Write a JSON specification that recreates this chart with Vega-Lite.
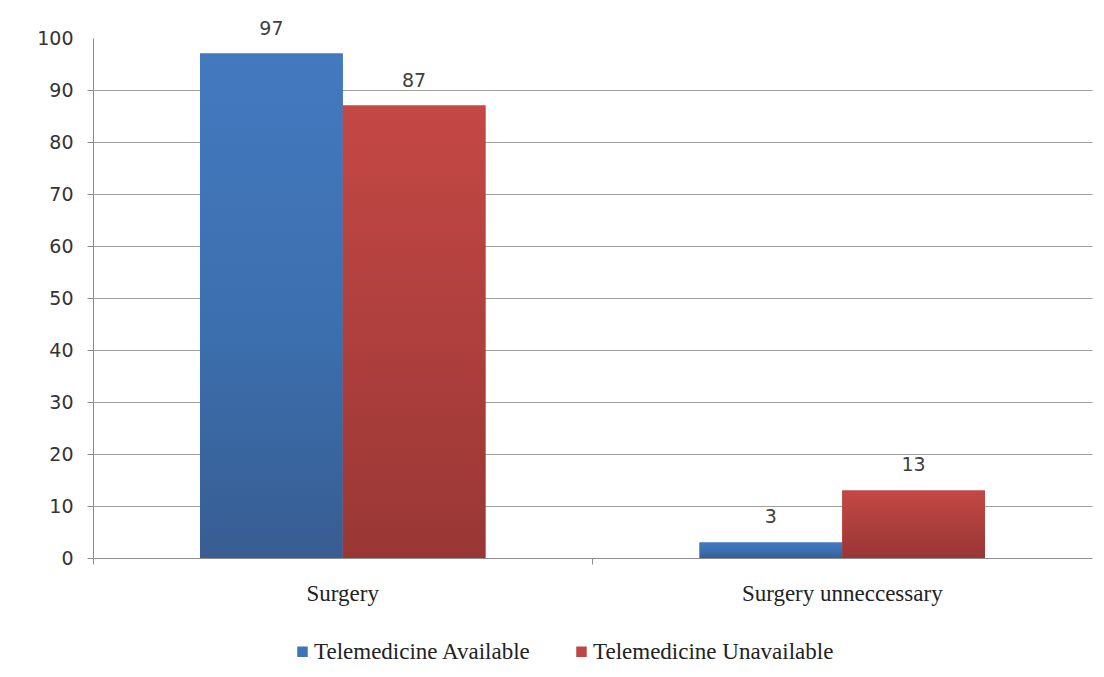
{
  "$schema": "https://vega.github.io/schema/vega-lite/v6.json",
  "width": 999,
  "height": 520,
  "autosize": {"type": "none"},
  "padding": {"left": 93, "top": 38, "right": 12, "bottom": 119},
  "background": "white",
  "config": {"view": {"stroke": null}},
  "data": {
    "values": [
      {"category": "Surgery", "series": "Telemedicine Available", "value": 97},
      {"category": "Surgery", "series": "Telemedicine Unavailable", "value": 87},
      {"category": "Surgery unneccessary", "series": "Telemedicine Available", "value": 3},
      {"category": "Surgery unneccessary", "series": "Telemedicine Unavailable", "value": 13}
    ]
  },
  "encoding": {
    "x": {
      "field": "category",
      "type": "nominal",
      "sort": ["Surgery", "Surgery unneccessary"],
      "scale": {"paddingInner": 0, "paddingOuter": 0},
      "axis": {
        "title": null,
        "labelAngle": 0,
        "domainColor": "#8c8c8c",
        "tickColor": "#8c8c8c",
        "tickSize": 6,
        "bandPosition": 0,
        "labelPadding": 18,
        "labelFont": "Liberation Serif",
        "labelFontSize": 23,
        "labelLimit": 400,
        "labelColor": "#222222"
      }
    },
    "xOffset": {
      "field": "series",
      "type": "nominal",
      "sort": ["Telemedicine Available", "Telemedicine Unavailable"],
      "scale": {"paddingInner": 0, "paddingOuter": 0.75}
    },
    "y": {
      "field": "value",
      "type": "quantitative",
      "scale": {"domain": [0, 100]},
      "axis": {
        "title": null,
        "values": [0, 10, 20, 30, 40, 50, 60, 70, 80, 90, 100],
        "domainColor": "#8c8c8c",
        "tickColor": "#8c8c8c",
        "gridColor": "#a0a0a0",
        "tickSize": 6,
        "labelPadding": 14,
        "labelFont": "DejaVu Sans",
        "labelFontSize": 19,
        "labelColor": "#333333",
        "gridOpacity": {"condition": {"test": "datum.value === 100 || datum.value === 0", "value": 0}, "value": 1},
        "tickOpacity": {"condition": {"test": "datum.value === 100", "value": 0}, "value": 1}
      }
    }
  },
  "layer": [
    {
      "mark": {"type": "bar"},
      "encoding": {
        "color": {
          "field": "series",
          "type": "nominal",
          "sort": ["Telemedicine Available", "Telemedicine Unavailable"],
          "scale": {"range": ["#3f74b8", "#bd4744"]},
          "legend": {
            "title": null,
            "orient": "none",
            "legendX": 198,
            "legendY": 602,
            "direction": "horizontal",
            "symbolType": "square",
            "symbolSize": 110,
            "symbolStrokeWidth": 0,
            "symbolOffset": 0,
            "labelOffset": 0,
            "columnPadding": 39,
            "labelLimit": 400,
            "labelFont": "Liberation Serif",
            "labelFontSize": 23,
            "labelColor": "#222222"
          }
        }
      }
    },
    {
      "transform": [{"filter": "datum.series === 'Telemedicine Available'"}],
      "mark": {
        "type": "bar",
        "fill": {
          "gradient": "linear",
          "x1": 0, "y1": 0, "x2": 0, "y2": 1,
          "stops": [
            {"offset": 0, "color": "#4479c0"},
            {"offset": 0.55, "color": "#3b6fae"},
            {"offset": 1, "color": "#385d92"}
          ]
        }
      }
    },
    {
      "transform": [{"filter": "datum.series === 'Telemedicine Unavailable'"}],
      "mark": {
        "type": "bar",
        "fill": {
          "gradient": "linear",
          "x1": 0, "y1": 0, "x2": 0, "y2": 1,
          "stops": [
            {"offset": 0, "color": "#c44845"},
            {"offset": 1, "color": "#993735"}
          ]
        }
      }
    },
    {
      "mark": {
        "type": "text",
        "baseline": "bottom",
        "dy": -15,
        "font": "DejaVu Sans",
        "fontSize": 19,
        "color": "#404040"
      },
      "encoding": {"text": {"field": "value", "type": "quantitative"}}
    }
  ]
}
